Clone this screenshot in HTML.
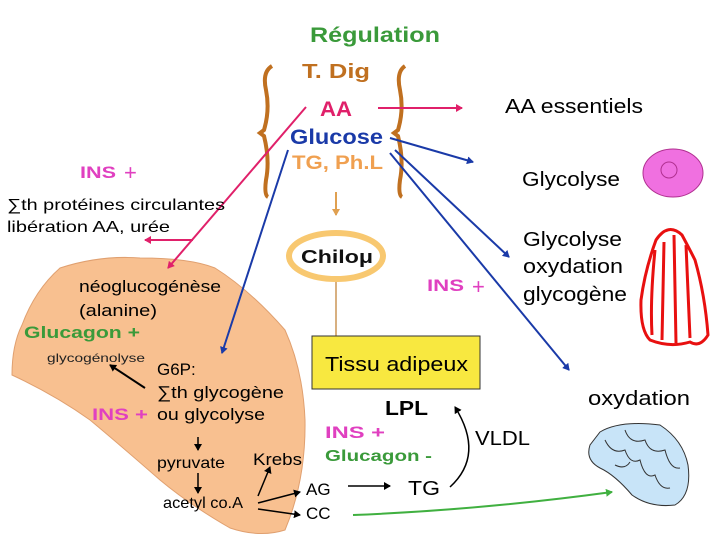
<!DOCTYPE html>
<html><head><meta charset="utf-8"><style>
body{margin:0;background:#fff}
svg{display:block;font-family:"Liberation Sans",sans-serif}
.b{font-weight:bold}
</style></head><body>
<svg width="720" height="540" viewBox="0 0 720 540">
<defs>
<marker id="mb" markerWidth="8" markerHeight="8" refX="6" refY="4" orient="auto" markerUnits="userSpaceOnUse"><path d="M0,0 L7,4 L0,8z" fill="#1a3aa8"/></marker>
<marker id="mp" markerWidth="8" markerHeight="8" refX="6" refY="4" orient="auto" markerUnits="userSpaceOnUse"><path d="M0,0 L7,4 L0,8z" fill="#e0206a"/></marker>
<marker id="mk" markerWidth="8" markerHeight="8" refX="6" refY="4" orient="auto" markerUnits="userSpaceOnUse"><path d="M0,0 L7,4 L0,8z" fill="#000"/></marker>
<marker id="mg" markerWidth="8" markerHeight="8" refX="6" refY="4" orient="auto" markerUnits="userSpaceOnUse"><path d="M0,0 L7,4 L0,8z" fill="#40b040"/></marker>
<marker id="mo" markerWidth="8" markerHeight="8" refX="6" refY="4" orient="auto" markerUnits="userSpaceOnUse"><path d="M0,0 L7,4 L0,8z" fill="#e0a050"/></marker>
</defs>
<path d="M60,268 Q100,255 140,258 Q190,258 215,268 Q250,290 285,330 Q303,370 305,420 Q306,480 285,530 Q260,538 230,528 Q190,505 160,480 Q120,445 90,420 Q55,395 12,375 Q12,345 22,325 Q35,290 60,268z" fill="#f8c090" stroke="#e0a070" stroke-width="1"/>
<path d="M272,66 Q262,72 266,90 Q270,110 264,130 L260,133 L264,136 Q270,160 266,180 Q264,195 268,197" fill="none" stroke="#c07020" stroke-width="4"/>
<path d="M405,66 Q396,72 400,90 Q404,110 398,130 L394,133 L398,136 Q404,160 400,180 Q398,195 402,197" fill="none" stroke="#c07020" stroke-width="4"/>
<g lengthAdjust="spacingAndGlyphs">
<text x="310" y="42" class="b" font-size="21" fill="#3a9a3a" textLength="130" lengthAdjust="spacingAndGlyphs">Régulation</text>
<text x="302" y="78" class="b" font-size="20" fill="#c07020" textLength="68" lengthAdjust="spacingAndGlyphs">T. Dig</text>
<text x="320" y="116" class="b" font-size="21" fill="#e0206a" textLength="32" lengthAdjust="spacingAndGlyphs">AA</text>
<text x="290" y="144" class="b" font-size="21" fill="#1a3aa8" textLength="93" lengthAdjust="spacingAndGlyphs">Glucose</text>
<text x="292" y="169" class="b" font-size="19" fill="#f0a050" textLength="91" lengthAdjust="spacingAndGlyphs">TG, Ph.L</text>
</g>
<line x1="378" y1="108" x2="462" y2="108" stroke="#e0206a" stroke-width="2" marker-end="url(#mp)"/>
<line x1="390" y1="138" x2="473" y2="162" stroke="#1a3aa8" stroke-width="2" marker-end="url(#mb)"/>
<line x1="395" y1="150" x2="509" y2="257" stroke="#1a3aa8" stroke-width="2" marker-end="url(#mb)"/>
<line x1="390" y1="153" x2="569" y2="370" stroke="#1a3aa8" stroke-width="2" marker-end="url(#mb)"/>
<line x1="288" y1="150" x2="222" y2="353" stroke="#1a3aa8" stroke-width="2" marker-end="url(#mb)"/>
<line x1="306" y1="107" x2="168" y2="268" stroke="#e0206a" stroke-width="2" marker-end="url(#mp)"/>
<line x1="193" y1="240" x2="145" y2="240" stroke="#e0206a" stroke-width="2" marker-end="url(#mp)"/>
<text x="505" y="113" font-size="20" textLength="138" lengthAdjust="spacingAndGlyphs">AA essentiels</text>
<text x="80" y="178" class="b" font-size="17" fill="#e040c0" textLength="36" lengthAdjust="spacingAndGlyphs">INS</text>
<text x="124" y="180" font-size="22" fill="#e040c0">+</text>
<text x="7" y="210" font-size="16" textLength="218" lengthAdjust="spacingAndGlyphs">∑th protéines circulantes</text>
<text x="7" y="232" font-size="16" textLength="163" lengthAdjust="spacingAndGlyphs">libération AA, urée</text>
<line x1="336" y1="192" x2="336" y2="215" stroke="#e0a050" stroke-width="2" marker-end="url(#mo)"/>
<ellipse cx="336" cy="256" rx="47" ry="23" fill="#fff" stroke="#f8c870" stroke-width="6"/>
<text x="301" y="263" font-size="18" class="b" fill="#111" textLength="72" lengthAdjust="spacingAndGlyphs">Chiloμ</text>
<line x1="336" y1="282" x2="336" y2="336" stroke="#d8b080" stroke-width="2"/>
<rect x="312" y="336" width="168" height="53" fill="#f8e840" stroke="#333" stroke-width="1"/>
<text x="325" y="371" font-size="20" textLength="143" lengthAdjust="spacingAndGlyphs">Tissu adipeux</text>
<text x="427" y="291" class="b" font-size="17" fill="#e040c0" textLength="37" lengthAdjust="spacingAndGlyphs">INS</text>
<text x="472" y="294" font-size="22" fill="#e040c0">+</text>
<text x="522" y="186" font-size="20" textLength="98" lengthAdjust="spacingAndGlyphs">Glycolyse</text>
<ellipse cx="673" cy="173" rx="30" ry="24" fill="#f070e0" stroke="#b03090" stroke-width="1"/>
<circle cx="669" cy="170" r="8" fill="none" stroke="#b03090" stroke-width="1"/>
<text x="523" y="246" font-size="20" textLength="99" lengthAdjust="spacingAndGlyphs">Glycolyse</text>
<text x="523" y="273" font-size="20" textLength="100" lengthAdjust="spacingAndGlyphs">oxydation</text>
<text x="523" y="301" font-size="20" textLength="104" lengthAdjust="spacingAndGlyphs">glycogène</text>
<path d="M656,240 Q668,222 682,235 Q690,250 695,260 Q705,295 708,335 Q700,348 690,342 Q670,348 650,340 Q640,330 641,300 Q645,270 656,240z M664,242 L662,340 M674,235 L676,343 M686,245 L690,338 M655,250 Q650,300 652,335" fill="none" stroke="#e81010" stroke-width="3"/>
<text x="588" y="405" font-size="20" textLength="102" lengthAdjust="spacingAndGlyphs">oxydation</text>
<path d="M600,432 Q620,420 660,425 Q683,440 688,465 Q692,495 675,505 Q650,508 632,495 Q615,475 600,468 Q585,460 590,445z" fill="#c8e4f8" stroke="#333" stroke-width="1"/>
<path d="M605,440 Q612,455 625,450 Q630,465 640,460 Q645,480 655,475 Q660,490 670,488 M625,430 Q630,445 645,440 Q650,455 665,450 Q670,470 680,468 M615,465 Q625,470 630,462" fill="none" stroke="#333" stroke-width="1"/>
<text x="79" y="292" font-size="17" textLength="142" lengthAdjust="spacingAndGlyphs">néoglucogénèse</text>
<text x="79" y="316" font-size="17" textLength="78" lengthAdjust="spacingAndGlyphs">(alanine)</text>
<text x="24" y="338" class="b" font-size="17" fill="#3a9a3a" textLength="116" lengthAdjust="spacingAndGlyphs">Glucagon +</text>
<text x="47" y="362" font-size="12" fill="#222" textLength="98" lengthAdjust="spacingAndGlyphs">glycogénolyse</text>
<line x1="145" y1="388" x2="110" y2="365" stroke="#000" stroke-width="2" marker-end="url(#mk)"/>
<text x="157" y="375" font-size="17">G6P:</text>
<text x="157" y="398" font-size="17" textLength="127" lengthAdjust="spacingAndGlyphs">∑th glycogène</text>
<text x="92" y="420" class="b" font-size="17" fill="#e040c0" textLength="56" lengthAdjust="spacingAndGlyphs">INS +</text>
<text x="157" y="420" font-size="17" textLength="108" lengthAdjust="spacingAndGlyphs">ou glycolyse</text>
<line x1="198" y1="437" x2="198" y2="450" stroke="#000" stroke-width="1.5" marker-end="url(#mk)"/>
<text x="157" y="468" font-size="16" textLength="68" lengthAdjust="spacingAndGlyphs">pyruvate</text>
<line x1="198" y1="473" x2="198" y2="493" stroke="#000" stroke-width="1.5" marker-end="url(#mk)"/>
<text x="163" y="508" font-size="16" textLength="80" lengthAdjust="spacingAndGlyphs">acetyl co.A</text>
<text x="253" y="465" font-size="17" textLength="49" lengthAdjust="spacingAndGlyphs">Krebs</text>
<line x1="258" y1="496" x2="270" y2="467" stroke="#000" stroke-width="1.5" marker-end="url(#mk)"/>
<line x1="258" y1="503" x2="300" y2="492" stroke="#000" stroke-width="1.5" marker-end="url(#mk)"/>
<line x1="258" y1="509" x2="300" y2="515" stroke="#000" stroke-width="1.5" marker-end="url(#mk)"/>
<text x="306" y="495" font-size="17">AG</text>
<text x="306" y="519" font-size="17">CC</text>
<line x1="348" y1="486" x2="390" y2="486" stroke="#000" stroke-width="1.5" marker-end="url(#mk)"/>
<text x="408" y="495" font-size="20" textLength="32" lengthAdjust="spacingAndGlyphs">TG</text>
<path d="M450,487 Q485,455 455,407" fill="none" stroke="#000" stroke-width="1.5" marker-end="url(#mk)"/>
<text x="385" y="415" class="b" font-size="20" textLength="43" lengthAdjust="spacingAndGlyphs">LPL</text>
<text x="475" y="445" font-size="20" textLength="55" lengthAdjust="spacingAndGlyphs">VLDL</text>
<text x="325" y="438" class="b" font-size="17" fill="#e040c0" textLength="60" lengthAdjust="spacingAndGlyphs">INS +</text>
<text x="325" y="461" class="b" font-size="16" fill="#3a9a3a" textLength="107" lengthAdjust="spacingAndGlyphs">Glucagon -</text>
<path d="M353,515 Q480,510 612,492" fill="none" stroke="#40b040" stroke-width="2" marker-end="url(#mg)"/>
</svg>
</body></html>
